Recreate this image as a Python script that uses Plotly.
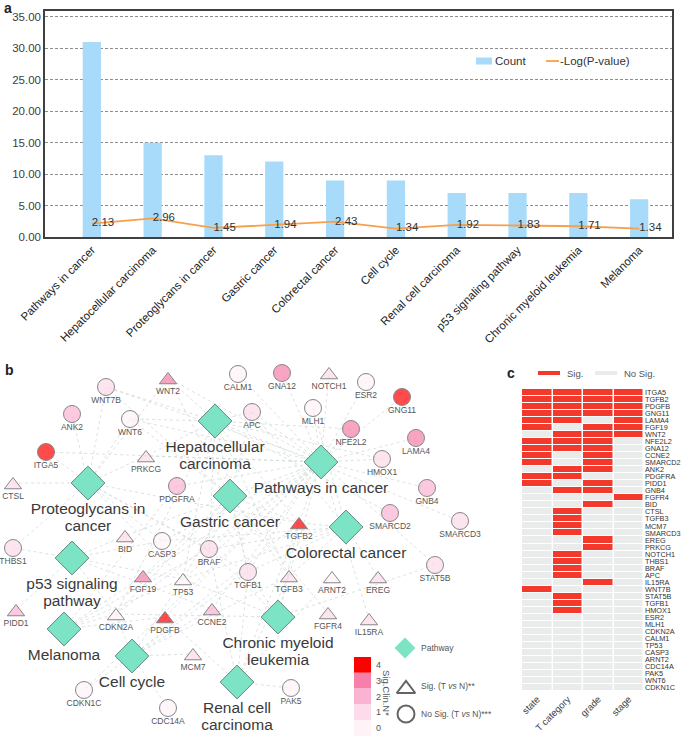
import plotly.graph_objects as go

W, H = 685, 736
FONT = "Liberation Sans, Arial, sans-serif"

# ---------------- Panel a data ----------------
pathways = ["Pathways in cancer", "Hepatocellular carcinoma", "Proteoglycans in cancer",
            "Gastric cancer", "Colorectal cancer", "Cell cycle", "Renal cell carcinoma",
            "p53 signaling pathway", "Chronic myeloid leukemia", "Melanoma"]
counts = [31, 15, 13, 12, 9, 9, 7, 7, 7, 6]
neglogp = [2.13, 2.96, 1.45, 1.94, 2.43, 1.34, 1.92, 1.83, 1.71, 1.34]
a_yticks = [0, 5, 10, 15, 20, 25, 30, 35]

# ---------------- Panel c data ----------------
clin_features = ["state", "T category", "grade", "stage"]
heat_genes = ["ITGA5", "TGFB2", "PDGFB", "GNG11", "LAMA4", "FGF19", "WNT2", "NFE2L2", "GNA12",
              "CCNE2", "SMARCD2", "ANK2", "PDGFRA", "PIDD1", "GNB4", "FGFR4", "BID", "CTSL",
              "TGFB3", "MCM7", "SMARCD3", "EREG", "PRKCG", "NOTCH1", "THBS1", "BRAF", "APC",
              "IL15RA", "WNT7B", "STAT5B", "TGFB1", "HMOX1", "ESR2", "MLH1", "CDKN2A", "CALM1",
              "TP53", "CASP3", "ARNT2", "CDC14A", "PAK5", "WNT6", "CDKN1C"]
sig_state = [1,1,1,1,1,1,0,1,1,1,1,0,1,1,0,0,0,0,0,0,0,0,0,0,0,0,0,0,1,0,0,0,0,0,0,0,0,0,0,0,0,0,0]
sig_T     = [1,1,1,1,1,0,1,1,1,0,0,1,1,0,1,0,0,1,1,1,1,0,0,1,1,1,1,0,0,1,1,1,0,0,0,0,0,0,0,0,0,0,0]
sig_grade = [1,1,1,1,0,1,1,1,1,1,1,1,0,1,1,0,1,0,0,0,0,1,1,0,0,0,0,1,0,0,0,0,0,0,0,0,0,0,0,0,0,0,0]
sig_stage = [1,1,1,1,1,1,1,0,0,0,0,0,0,0,0,1,0,0,0,0,0,0,0,0,0,0,0,0,0,0,0,0,0,0,0,0,0,0,0,0,0,0,0]

# ---------------- Panel b data (network layout) ----------------
net_genes = ["WNT7B", "WNT2", "CALM1", "GNA12", "NOTCH1", "ESR2", "GNG11", "ANK2", "WNT6", "APC",
             "MLH1", "NFE2L2", "LAMA4", "ITGA5", "PRKCG", "HMOX1", "CTSL", "PDGFRA", "GNB4",
             "TGFB2", "SMARCD2", "SMARCD3", "THBS1", "BID", "CASP3", "BRAF", "TGFB1", "TGFB3",
             "ARNT2", "EREG", "STAT5B", "FGF19", "TP53", "PIDD1", "CDKN2A", "PDGFB", "CCNE2",
             "FGFR4", "IL15RA", "MCM7", "CDKN1C", "CDC14A", "PAK5"]
gene_x = [106, 168, 238, 282, 329, 366, 402, 72, 130, 252, 313, 351, 416, 46, 146, 382, 13, 177, 427,
          299, 390, 460, 13, 125, 162, 209, 248, 289, 332, 378, 435, 143, 183, 16, 116, 165, 212,
          328, 369, 193, 84, 168, 291]
gene_y = [387, 378, 374, 373, 373, 382, 397, 414, 419, 412, 408, 429, 438, 452, 456, 459, 483, 486, 488,
          523, 513, 521, 548, 536, 541, 549, 572, 576, 577, 577, 565, 576, 579, 610, 614, 617, 609,
          613, 619, 654, 690, 708, 688]
tn_sig_genes = ["WNT2", "NOTCH1", "PRKCG", "CTSL", "TGFB2", "BID", "FGF19", "TP53", "TGFB3", "ARNT2",
                "EREG", "PIDD1", "CDKN2A", "PDGFB", "CCNE2", "FGFR4", "IL15RA", "MCM7"]
pathway_x = [321, 215, 88, 230, 346, 132, 237, 72, 278, 64]
pathway_y = [462, 421, 483, 496, 527, 656, 682, 558, 617, 629]
pathway_label_lines = [["Pathways in cancer"], ["Hepatocellular", "carcinoma"], ["Proteoglycans in", "cancer"],
                       ["Gastric cancer"], ["Colorectal cancer"], ["Cell cycle"], ["Renal cell", "carcinoma"],
                       ["p53 signaling", "pathway"], ["Chronic myeloid", "leukemia"], ["Melanoma"]]
members = {
    "Pathways in cancer": ["ITGA5", "TGFB2", "PDGFB", "GNG11", "LAMA4", "FGF19", "WNT2", "NFE2L2", "GNA12",
                           "CCNE2", "PDGFRA", "GNB4", "BID", "TGFB3", "PRKCG", "NOTCH1", "BRAF", "APC",
                           "IL15RA", "WNT7B", "STAT5B", "TGFB1", "HMOX1", "ESR2", "MLH1", "CDKN2A",
                           "CALM1", "TP53", "CASP3", "WNT6", "CDKN1C"],
    "Hepatocellular carcinoma": ["TGFB2", "TGFB3", "TGFB1", "SMARCD2", "SMARCD3", "NFE2L2", "BRAF", "APC",
                                 "WNT2", "WNT7B", "WNT6", "CDKN2A", "TP53", "PRKCG", "HMOX1"],
    "Proteoglycans in cancer": ["ITGA5", "TGFB2", "WNT2", "ANK2", "CTSL", "THBS1", "WNT7B", "WNT6", "PRKCG",
                                "BRAF", "CASP3", "TP53", "TGFB1"],
    "Gastric cancer": ["TGFB2", "FGF19", "WNT2", "FGFR4", "TGFB3", "BRAF", "APC", "WNT7B", "TGFB1",
                       "CDKN2A", "TP53", "WNT6"],
    "Colorectal cancer": ["TGFB2", "TGFB3", "TGFB1", "BRAF", "APC", "MLH1", "TP53", "CASP3", "EREG"],
    "Cell cycle": ["TGFB2", "CCNE2", "MCM7", "TGFB3", "CDKN2A", "TGFB1", "TP53", "CDC14A", "CDKN1C"],
    "Renal cell carcinoma": ["TGFB2", "TGFB3", "TGFB1", "BRAF", "ARNT2", "PAK5", "PDGFB"],
    "p53 signaling pathway": ["CCNE2", "PIDD1", "BID", "THBS1", "CDKN2A", "TP53", "CASP3"],
    "Chronic myeloid leukemia": ["TGFB2", "TGFB3", "TGFB1", "BRAF", "CDKN2A", "TP53", "STAT5B"],
    "Melanoma": ["PDGFB", "FGF19", "BRAF", "PDGFRA", "CDKN2A", "TP53"],
}
sig_levels = [4, 3, 2, 1, 0]
sig_colors = ["#fff3f8", "#fddbeb", "#fab3d3", "#f680aa", "#ff0000"]  # index = level

BAR_BLUE = "#a8dbfa"
LINE_ORANGE = "#f7a04c"
HEAT_RED = "#f2392c"
HEAT_GRAY = "#eaecec"

# ---------------- helpers ----------------
def px_x(p):
    return p / W

def px_y(p):
    return 1 - p / H

fig = go.Figure()

# ---------- Panel b : edges ----------
gx = dict(zip(net_genes, gene_x))
gy = dict(zip(net_genes, gene_y))
ex, ey = [], []
for i, pw in enumerate(pathways):
    for g in members[pw]:
        ex += [pathway_x[i], gx[g], None]
        ey += [pathway_y[i], gy[g], None]
fig.add_trace(go.Scatter(x=ex, y=ey, mode="lines", xaxis="x", yaxis="y",
                         line=dict(color="#ccd5d1", width=0.7, dash="dot"),
                         hoverinfo="skip", showlegend=False))

# ---------- Panel b : gene nodes ----------
heat_count = {g: s + t + gr + st for g, s, t, gr, st in zip(heat_genes, sig_state, sig_T, sig_grade, sig_stage)}
node_colors = [sig_colors[heat_count[g]] for g in net_genes]
node_symbols = ["triangle-up" if g in tn_sig_genes else "circle" for g in net_genes]
node_sizes = [15 if g in tn_sig_genes else 17 for g in net_genes]
node_y_draw = [y + 2 if g in tn_sig_genes else y for g, y in zip(net_genes, gene_y)]
fig.add_trace(go.Scatter(x=gene_x, y=node_y_draw, mode="markers", xaxis="x", yaxis="y",
                         marker=dict(symbol=node_symbols, size=node_sizes, color=node_colors,
                                     line=dict(color="#555555", width=1)),
                         hoverinfo="skip", showlegend=False))
fig.add_trace(go.Scatter(x=gene_x, y=[y + 13.5 for y in gene_y], mode="text", text=net_genes,
                         xaxis="x", yaxis="y",
                         textfont=dict(size=8.5, color="#555555", family=FONT),
                         hoverinfo="skip", showlegend=False))

# ---------- Panel b : pathway nodes ----------
fig.add_trace(go.Scatter(x=pathway_x, y=pathway_y, mode="markers", xaxis="x", yaxis="y",
                         marker=dict(symbol="diamond", size=26, color="#7ce3c5",
                                     line=dict(color="#4f6f66", width=0.8)),
                         hoverinfo="skip", showlegend=False))
lx, ly, lt = [], [], []
for i, lines in enumerate(pathway_label_lines):
    for j, ln in enumerate(lines):
        lx.append(pathway_x[i])
        ly.append(pathway_y[i] + 27 + 17.5 * j)
        lt.append(ln)
fig.add_trace(go.Scatter(x=lx, y=ly, mode="text", text=lt, xaxis="x", yaxis="y",
                         textfont=dict(size=15.5, color="#3a3a3a", family=FONT),
                         hoverinfo="skip", showlegend=False))

# ---------- Panel b : legend ----------
fig.add_trace(go.Scatter(x=[405], y=[648], mode="markers", xaxis="x", yaxis="y",
                         marker=dict(symbol="diamond", size=16, color="#7ce3c5", line=dict(width=0)),
                         hoverinfo="skip", showlegend=False))
fig.add_trace(go.Scatter(x=[406, 406], y=[689, 714], mode="markers", xaxis="x", yaxis="y",
                         marker=dict(symbol=["triangle-up-open", "circle-open"], size=[16, 17],
                                     color="#222222", line=dict(width=2, color="#222222")),
                         hoverinfo="skip", showlegend=False))
annotations = [
    dict(x=419, y=648, text="Pathway"),
    dict(x=419, y=686, text="Sig. (T <i>vs</i> N)**"),
    dict(x=419, y=714, text="No Sig. (T <i>vs</i> N)***"),
]
annotations = [dict(a, xref="x", yref="y", xanchor="left", yanchor="middle", showarrow=False,
                    font=dict(size=8.5, color="#555555", family=FONT)) for a in annotations]

shapes = []
for k, lvl in enumerate(sig_levels):
    y0 = 657 + k * 15.8
    shapes.append(dict(type="rect", xref="x", yref="y", x0=354, x1=371, y0=y0, y1=y0 + 15.8,
                       fillcolor=sig_colors[lvl], line=dict(width=0), layer="below"))
    annotations.append(dict(x=374, y=y0 + 8, xref="x", yref="y", text=str(lvl), showarrow=False,
                            xanchor="left", yanchor="middle",
                            font=dict(size=9, color="#555555", family=FONT)))
annotations.append(dict(x=387, y=693, xref="x", yref="y", text="Sig.Clin.N*", showarrow=False,
                        textangle=90, xanchor="center", yanchor="middle",
                        font=dict(size=9.5, color="#555555", family=FONT)))

# ---------- Panel a ----------
fig.add_trace(go.Bar(x=pathways, y=counts, name="Count", xaxis="x2", yaxis="y2",
                     width=0.3, marker=dict(color=BAR_BLUE, line=dict(width=0)),
                     hoverinfo="skip", showlegend=False))
fig.add_trace(go.Scatter(x=pathways, y=neglogp, name="-Log(P-value)", xaxis="x2", yaxis="y2",
                         mode="lines+text", text=[f"{v:.2f}" for v in neglogp],
                         textposition="middle right",
                         textfont=dict(size=11.5, color="#333333", family=FONT),
                         line=dict(color=LINE_ORANGE, width=1.8), hoverinfo="skip", showlegend=False))
# panel a legend (drawn by hand)
shapes += [
    dict(type="rect", xref="x", yref="y", x0=476, x1=492, y0=57.5, y1=64.5,
         fillcolor=BAR_BLUE, line=dict(width=0)),
    dict(type="line", xref="x", yref="y", x0=546, x1=559, y0=61, y1=61,
         line=dict(color=LINE_ORANGE, width=1.8)),
]
for xx, tt in [(493, "Count"), (558, "-Log(P-value)")]:
    annotations.append(dict(x=xx, y=61, xref="x", yref="y", text=tt, showarrow=False,
                            xanchor="left", yanchor="middle",
                            font=dict(size=11.5, color="#333333", family=FONT)))

# ---------- Panel c ----------
z = [[a, b, c, d] for a, b, c, d in zip(sig_state, sig_T, sig_grade, sig_stage)]
fig.add_trace(go.Heatmap(z=z, x=clin_features, y=heat_genes, xaxis="x3", yaxis="y3",
                         colorscale=[[0, HEAT_GRAY], [0.5, HEAT_GRAY], [0.5, HEAT_RED], [1, HEAT_RED]],
                         zmin=0, zmax=1, showscale=False, xgap=1.5, ygap=1, hoverinfo="skip"))
shapes += [
    dict(type="rect", xref="x", yref="y", x0=538, x1=560, y0=371, y1=375,
         fillcolor=HEAT_RED, line=dict(width=0)),
    dict(type="rect", xref="x", yref="y", x0=595, x1=617, y0=371, y1=375,
         fillcolor=HEAT_GRAY, line=dict(width=0)),
]
for xx, tt in [(565, "Sig."), (622, "No Sig.")]:
    annotations.append(dict(x=xx, y=373, xref="x", yref="y", text=tt, showarrow=False,
                            xanchor="left", yanchor="middle",
                            font=dict(size=9.5, color="#555555", family=FONT)))

# panel letters
for xx, yy, tt in [(8, 8, "a"), (9, 370, "b"), (511, 373, "c")]:
    annotations.append(dict(x=xx, y=yy, xref="x", yref="y", text=f"<b>{tt}</b>", showarrow=False,
                            xanchor="center", yanchor="middle",
                            font=dict(size=14, color="#222222", family=FONT)))

fig.update_layout(
    width=W, height=H, margin=dict(l=0, r=0, t=0, b=0, autoexpand=False),
    paper_bgcolor="white", plot_bgcolor="rgba(0,0,0,0)",
    font=dict(family=FONT, color="#333333"),
    showlegend=False,
    xaxis=dict(domain=[0, 1], range=[0, W], visible=False, fixedrange=True, automargin=False),
    yaxis=dict(domain=[0, 1], range=[H, 0], visible=False, fixedrange=True, automargin=False),
    xaxis2=dict(domain=[px_x(45), px_x(672)], anchor="y2", type="category", range=[-0.77, 9.54],
                tickangle=-45, tickfont=dict(size=11.5, color="#222222"),
                showline=True, linecolor="#404040", linewidth=1.5, mirror=True,
                ticks="", showgrid=False, automargin=False),
    yaxis2=dict(domain=[px_y(237), px_y(10.6)], anchor="x2", range=[0, 36],
                tickvals=a_yticks, tickformat=".2f", tickfont=dict(size=11.5, color="#404040"),
                showgrid=True, gridcolor="#8c8c8c", gridwidth=0.8, griddash="3px,2px",
                showline=True, linecolor="#404040", linewidth=1.5, mirror=True,
                ticks="", zeroline=False, automargin=False),
    xaxis3=dict(domain=[px_x(522), px_x(644)], anchor="y3", tickangle=-45,
                tickfont=dict(size=9.5, color="#444444"), ticks="", showgrid=False, automargin=False),
    yaxis3=dict(domain=[px_y(691), px_y(389)], anchor="x3", side="right", autorange="reversed",
                tickmode="array", tickvals=heat_genes,
                tickfont=dict(size=7.3, color="#333333"), ticks="", showgrid=False, automargin=False),
    shapes=shapes, annotations=annotations,
)

fig.write_html("out.html", config={"displayModeBar": False})
with open("out.html", "r", encoding="utf-8") as f:
    html = f.read()
html = html.replace("<body>", '<body style="margin:0;overflow:hidden">', 1)
with open("out.html", "w", encoding="utf-8") as f:
    f.write(html)
